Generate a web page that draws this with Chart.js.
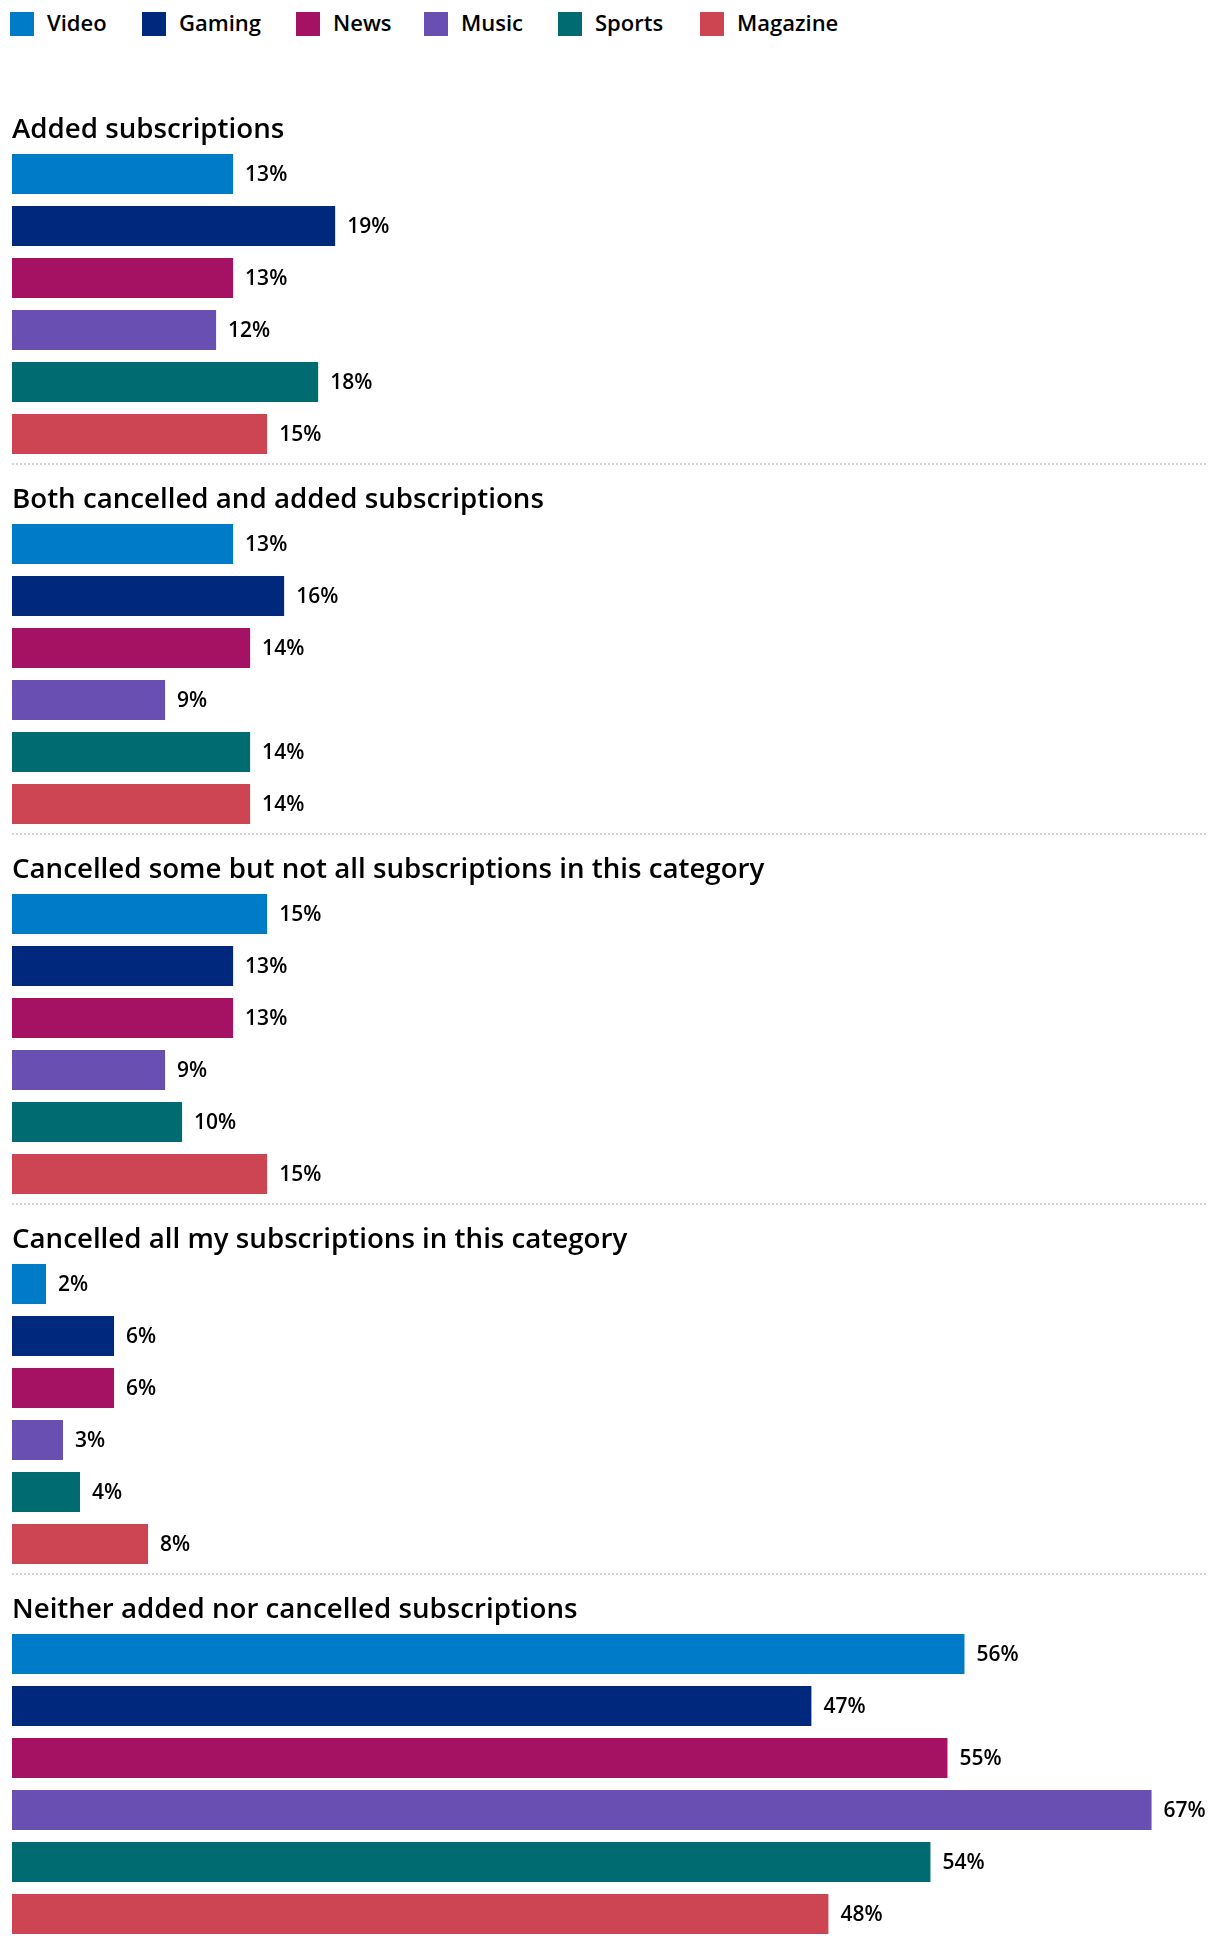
<!DOCTYPE html>
<html>
<head>
<meta charset="utf-8">
<script src="https://cdn.jsdelivr.net/npm/chart.js@4.4.1/dist/chart.umd.min.js"></script>
<style>
  html, body { margin: 0; padding: 0; background: #ffffff; }
  body { width: 1220px; height: 1946px; position: relative; overflow: hidden; font-family: 'Open Sans', sans-serif; }
  #legend { position: absolute; top: 12px; left: 0; width: 1220px; height: 24px; }
  .lg-item { position: absolute; top: 0; height: 24px; display: flex; align-items: center; white-space: nowrap; }
  .lg-box { width: 24px; height: 24px; flex: 0 0 24px; }
  .lg-text { margin-left: 13px; font-size: 22px; font-weight: 600; color: #000; position: relative; top: -2px; }
  .chart-wrap { position: absolute; left: 0; width: 1220px; height: 370px; }
</style>
</head>
<body>
<div id="legend"></div>
<div id="charts"></div>
<script>
// ---- data ----
const categories = ['Video', 'Gaming', 'News', 'Music', 'Sports', 'Magazine'];
const groupTitles = [
  'Added subscriptions',
  'Both cancelled and added subscriptions',
  'Cancelled some but not all subscriptions in this category',
  'Cancelled all my subscriptions in this category',
  'Neither added nor cancelled subscriptions'
];
const addedValues = [13, 19, 13, 12, 18, 15];
const bothValues = [13, 16, 14, 9, 14, 14];
const cancelledSomeValues = [15, 13, 13, 9, 10, 15];
const cancelledAllValues = [2, 6, 6, 3, 4, 8];
const neitherValues = [56, 47, 55, 67, 54, 48];
const seriesColors = ['#007BC7', '#00297E', '#A51163', '#694FB2', '#006C71', '#CD4452'];

// ---- layout ----
const legendX = [10, 142, 296, 424, 558, 700];
const FONT = "'Open Sans', sans-serif";
const groupValues = [addedValues, bothValues, cancelledSomeValues, cancelledAllValues, neitherValues];

// legend
const legendEl = document.getElementById('legend');
categories.forEach((c, i) => {
  const item = document.createElement('div');
  item.className = 'lg-item';
  item.style.left = legendX[i] + 'px';
  const box = document.createElement('span');
  box.className = 'lg-box';
  box.style.background = seriesColors[i];
  const txt = document.createElement('span');
  txt.className = 'lg-text';
  txt.textContent = c;
  item.appendChild(box);
  item.appendChild(txt);
  legendEl.appendChild(item);
});

const valueLabels = {
  id: 'valueLabels',
  afterDatasetsDraw(chart) {
    const ctx = chart.ctx;
    const meta = chart.getDatasetMeta(0);
    const data = chart.data.datasets[0].data;
    ctx.save();
    ctx.font = '600 21px ' + FONT;
    ctx.fillStyle = '#000';
    ctx.textAlign = 'left';
    ctx.textBaseline = 'middle';
    meta.data.forEach((bar, i) => {
      ctx.fillText(data[i] + '%', bar.x + 12, bar.y + 1);
    });
    ctx.restore();
  }
};

const divider = {
  id: 'divider',
  afterDraw(chart, args, opts) {
    if (!opts.show) return;
    const ctx = chart.ctx;
    ctx.save();
    ctx.strokeStyle = '#d3d3d3';
    ctx.lineWidth = 2;
    ctx.setLineDash([2, 2]);
    ctx.beginPath();
    ctx.moveTo(12, 369);
    ctx.lineTo(1208, 369);
    ctx.stroke();
    ctx.restore();
  }
};

const chartsEl = document.getElementById('charts');
groupTitles.forEach((title, g) => {
  const wrap = document.createElement('div');
  wrap.className = 'chart-wrap';
  wrap.style.top = (95 + 370 * g) + 'px';
  const canvas = document.createElement('canvas');
  wrap.appendChild(canvas);
  chartsEl.appendChild(wrap);
  new Chart(canvas, {
    type: 'bar',
    data: {
      labels: categories,
      datasets: [{
        data: groupValues[g],
        backgroundColor: seriesColors,
        barPercentage: 40 / 52,
        categoryPercentage: 1
      }]
    },
    options: {
      indexAxis: 'y',
      responsive: true,
      maintainAspectRatio: false,
      animation: false,
      layout: { padding: { left: 12, right: 14, top: 0, bottom: 5 } },
      scales: {
        x: { display: false, min: 0, max: 70.2 },
        y: { display: false }
      },
      plugins: {
        legend: { display: false },
        tooltip: { enabled: false },
        title: {
          display: true,
          text: title,
          align: 'start',
          color: '#000',
          font: { family: FONT, size: 27.7, weight: '600' },
          padding: { top: 18.6, bottom: 1.16 }
        },
        divider: { show: g < groupTitles.length - 1 }
      }
    },
    plugins: [valueLabels, divider]
  });
});
</script>
</body>
</html>
